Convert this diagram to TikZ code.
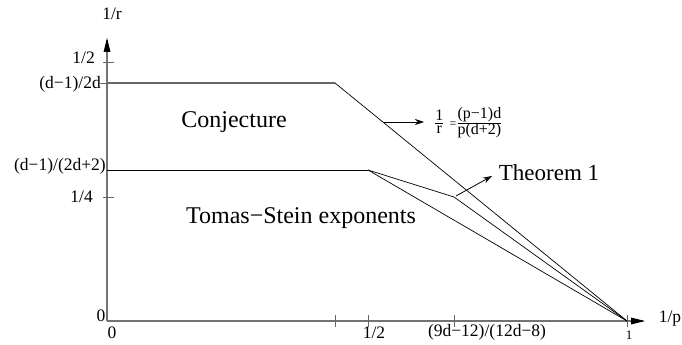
\documentclass[tikz,border=0pt]{standalone}
\usepackage{fontspec}
\setmainfont{Liberation Serif}
\usetikzlibrary{arrows.meta}
\begin{document}
\begin{tikzpicture}[x=1pt,y=-1pt,
  axis/.style={draw=black!55,line width=1.3pt},
  tickmark/.style={draw=black!60,line width=0.9pt},
  curve/.style={draw=black,line width=0.7pt},
  big/.style={font=\fontsize{24}{26}\selectfont,inner sep=0pt},
  ticklab/.style={font=\fontsize{17.5}{19}\selectfont,inner sep=0pt},
  arr/.style={-{Stealth[length=9pt,width=6pt]},line width=0.8pt}]
\useasboundingbox (0,0) rectangle (682,345);
% key points
\coordinate (O) at (107,321);
\coordinate (Ytop) at (107,40);
\coordinate (Xend) at (643,321);
\coordinate (A) at (107,83);
\coordinate (B) at (335,83);
\coordinate (C) at (107,170);
\coordinate (D) at (368,170);
\coordinate (T) at (454,197);
\coordinate (E) at (627,321);
\coordinate (Fs) at (383,122);
\coordinate (Fe) at (424,122);
\coordinate (Ts) at (456,196);
\coordinate (Te) at (492,176);
% axes
\draw[axis] (O) -- (Ytop);
\draw[axis] (O) -- (Xend);
\fill (107,38) -- (103.5,52) -- (110.5,52) -- cycle;
\fill (645,321) -- (631,317.5) -- (631,324.5) -- cycle;
% y ticks
\draw[tickmark] (103,62) -- (114,62);
\draw[tickmark] (100,83) -- (107,83);
\draw[tickmark] (103,197) -- (114,197);
% x ticks
\foreach \xx in {335,368,454,627} \draw[tickmark] (\xx,315) -- (\xx,327);
% curves
\draw[draw=black!60,line width=1.1pt] (A) -- (B);
\draw[curve] (B) -- (E);
\draw[curve] (C) -- (D);
\draw[curve] (D) -- (T) -- (E);
\draw[curve] (D) -- (E);
% arrows
\draw[arr] (Fs) -- (Fe);
\draw[arr] (Ts) -- (Te);
% labels
\node[ticklab] (lr) at (112,14) {1/r};
\node[ticklab] (lp) at (670,319) {1/p};
\node[ticklab,anchor=east] (l12) at (95,58) {1/2};
\node[ticklab,anchor=east] (ld2d) at (101,84) {(d−1)/2d};
\node[ticklab,anchor=east] (ld2d2) at (106,166) {(d−1)/(2d+2)};
\node[ticklab,anchor=east] (l14) at (93,197) {1/4};
\node[ticklab] (l0y) at (101,316) {0};
\node[ticklab] (l0x) at (112,333) {0};
\node[ticklab] (lx12) at (374,333) {1/2};
\node[ticklab] (lx9) at (487,332) {(9d−12)/(12d−8)};
\node[font=\fontsize{13}{14}\selectfont,inner sep=0pt] (lx1) at (629,335) {1};
\node[big] (conj) at (234,122) {Conjecture};
\node[big] (ts) at (301,218) {Tomas−Stein exponents};
\node[big,font=\fontsize{23}{25}\selectfont] (thm) at (549,173) {Theorem 1};
\node[inner sep=0pt,anchor=west,font=\fontsize{16}{17}\selectfont] (formula) at (434,123) {%
  $\frac{\mbox{1}}{\mbox{r}}$\hspace{5pt}{\fontsize{12}{13}\selectfont=}$\frac{\mbox{(p−1)d}}{\mbox{p(d+2)}}$};
\end{tikzpicture}
\end{document}
